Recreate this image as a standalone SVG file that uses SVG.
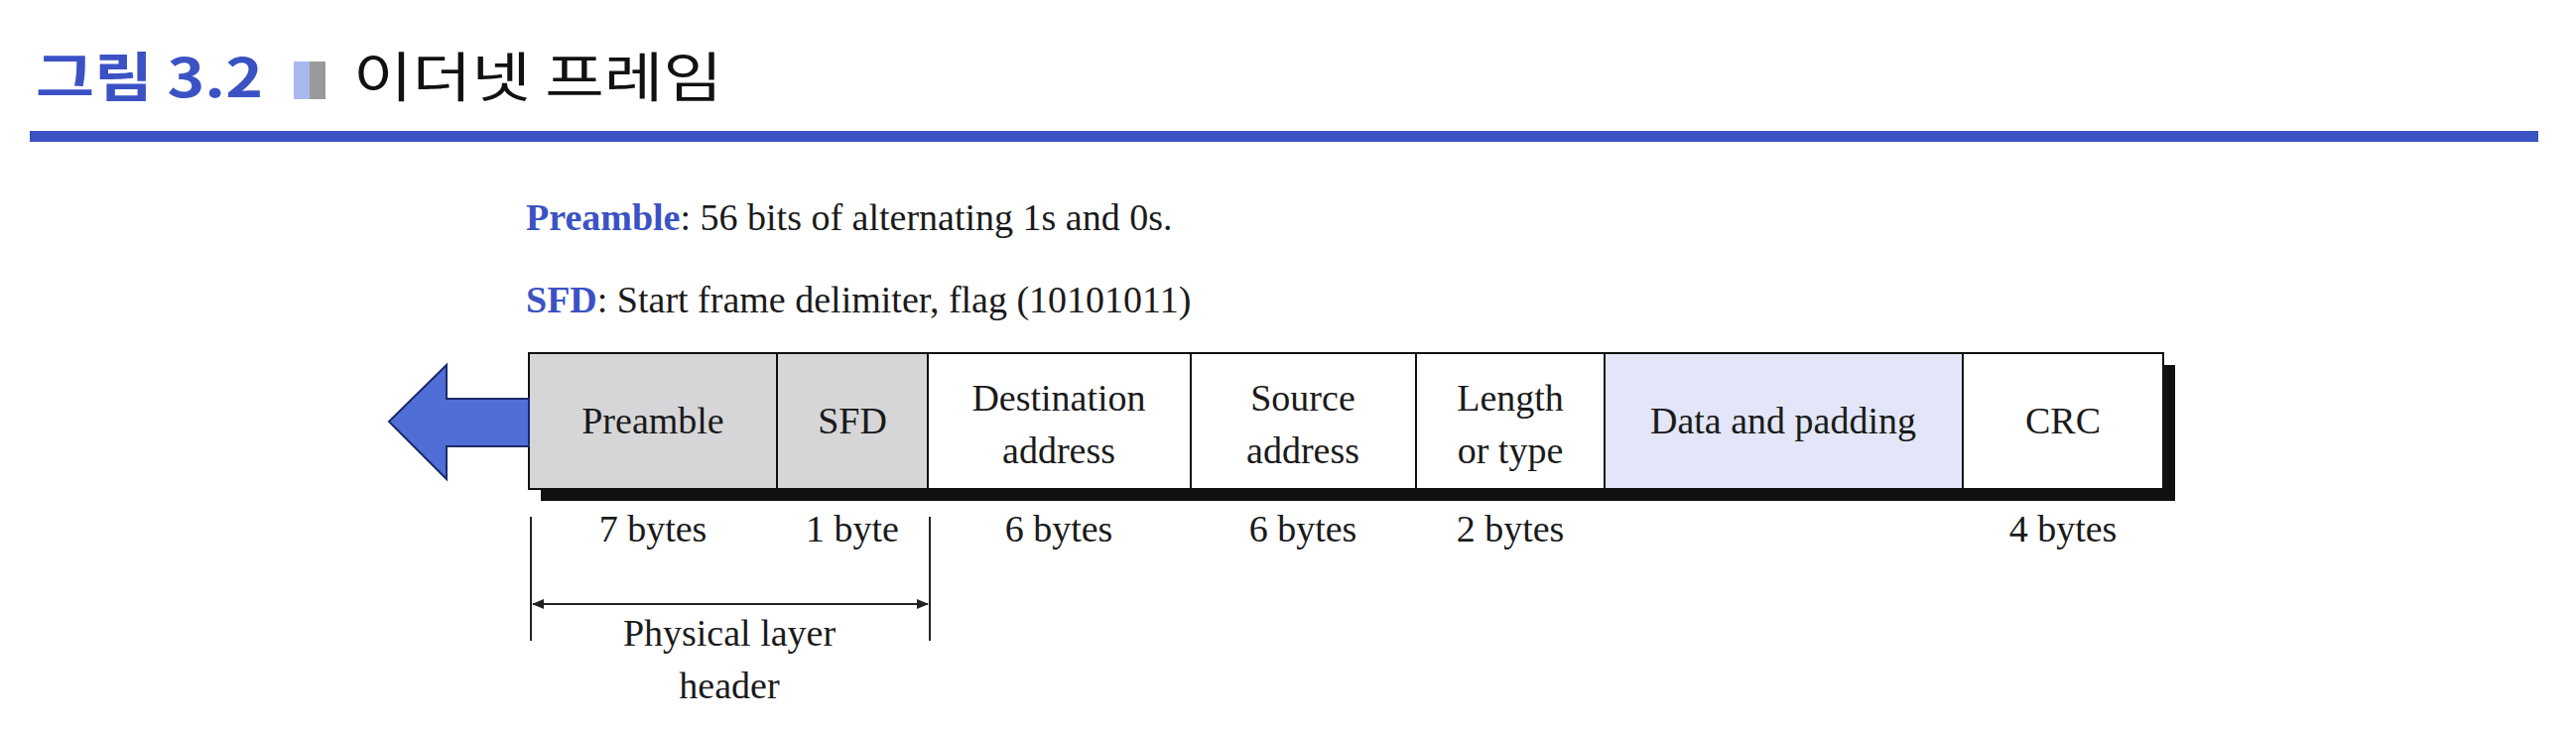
<svg xmlns="http://www.w3.org/2000/svg" width="2596" height="738" viewBox="0 0 2596 738">
<style>
.t{font-family:"Liberation Serif",serif;font-size:38px;fill:#1a1a1a}
.c{text-anchor:middle}
.b{fill:#3b52c4;font-weight:bold}
.cell{stroke:#111;stroke-width:2}
.tick{stroke:#222;stroke-width:2}
</style>
<defs>
<marker id="ah" markerWidth="12" markerHeight="10" refX="11" refY="5" orient="auto-start-reverse" markerUnits="userSpaceOnUse"><path d="M0,0 L12,5 L0,10 Z" fill="#222"/></marker>
</defs>
<rect width="2596" height="738" fill="#fff"/>
<g id="title">
<text x="36" y="98" font-family="'Noto Sans CJK KR',sans-serif" font-size="54" font-weight="bold" fill="#3b52c4" textLength="229" lengthAdjust="spacingAndGlyphs">그림 3.2</text>
<rect x="296" y="62" width="16" height="38" fill="#a9b8ee"/>
<rect x="312" y="62" width="16" height="38" fill="#9a9a9a"/>
<text x="356" y="98" font-family="'Noto Sans CJK KR',sans-serif" font-size="54" fill="#111" textLength="372" lengthAdjust="spacingAndGlyphs">이더넷 프레임</text>
<rect x="30" y="132" width="2528" height="11" fill="#3b52c4"/>
</g>
<g id="legend">
<text class="t" x="530" y="232"><tspan class="b">Preamble</tspan>: 56 bits of alternating 1s and 0s.</text>
<text class="t" x="530" y="315"><tspan class="b">SFD</tspan>: Start frame delimiter, flag (10101011)</text>
</g>
<g id="frame">
<rect x="545" y="368" width="1647" height="137" fill="#111"/>
<g id="preamble"><rect class="cell" x="533" y="356" width="250" height="137" fill="#d6d6d8"/><text class="t c" x="658" y="437">Preamble</text></g>
<g id="sfd"><rect class="cell" x="783" y="356" width="152" height="137" fill="#d6d6d8"/><text class="t c" x="859" y="437">SFD</text></g>
<g id="dest"><rect class="cell" x="935" y="356" width="265" height="137" fill="#fff"/><text class="t c" x="1067" y="414">Destination</text><text class="t c" x="1067" y="467">address</text></g>
<g id="src"><rect class="cell" x="1200" y="356" width="227" height="137" fill="#fff"/><text class="t c" x="1313" y="414">Source</text><text class="t c" x="1313" y="467">address</text></g>
<g id="len"><rect class="cell" x="1427" y="356" width="190" height="137" fill="#fff"/><text class="t c" x="1522" y="414">Length</text><text class="t c" x="1522" y="467">or type</text></g>
<g id="data"><rect class="cell" x="1617" y="356" width="361" height="137" fill="#e2e6f8"/><text class="t c" x="1797" y="437">Data and padding</text></g>
<g id="crc"><rect class="cell" x="1978" y="356" width="202" height="137" fill="#fff"/><text class="t c" x="2079" y="437">CRC</text></g>
</g>
<g id="direction">
<path d="M533,402 L450,402 L450,368 L392,425 L450,483 L450,450 L533,450 Z" fill="#4f6fd6" stroke="#1a2a6a" stroke-width="2"/>
</g>
<g id="sizes">
<text class="t c" x="658" y="546">7 bytes</text>
<text class="t c" x="859" y="546">1 byte</text>
<text class="t c" x="1067" y="546">6 bytes</text>
<text class="t c" x="1313" y="546">6 bytes</text>
<text class="t c" x="1522" y="546">2 bytes</text>
<text class="t c" x="2079" y="546">4 bytes</text>
</g>
<g id="connectors">
<line class="tick" x1="535" y1="521" x2="535" y2="646"/>
<line class="tick" x1="937" y1="521" x2="937" y2="646"/>
<line class="tick" x1="537" y1="609" x2="935" y2="609" marker-start="url(#ah)" marker-end="url(#ah)"/>
</g>
<g id="phy">
<text class="t c" x="735" y="651">Physical layer</text>
<text class="t c" x="735" y="704">header</text>
</g>
</svg>
